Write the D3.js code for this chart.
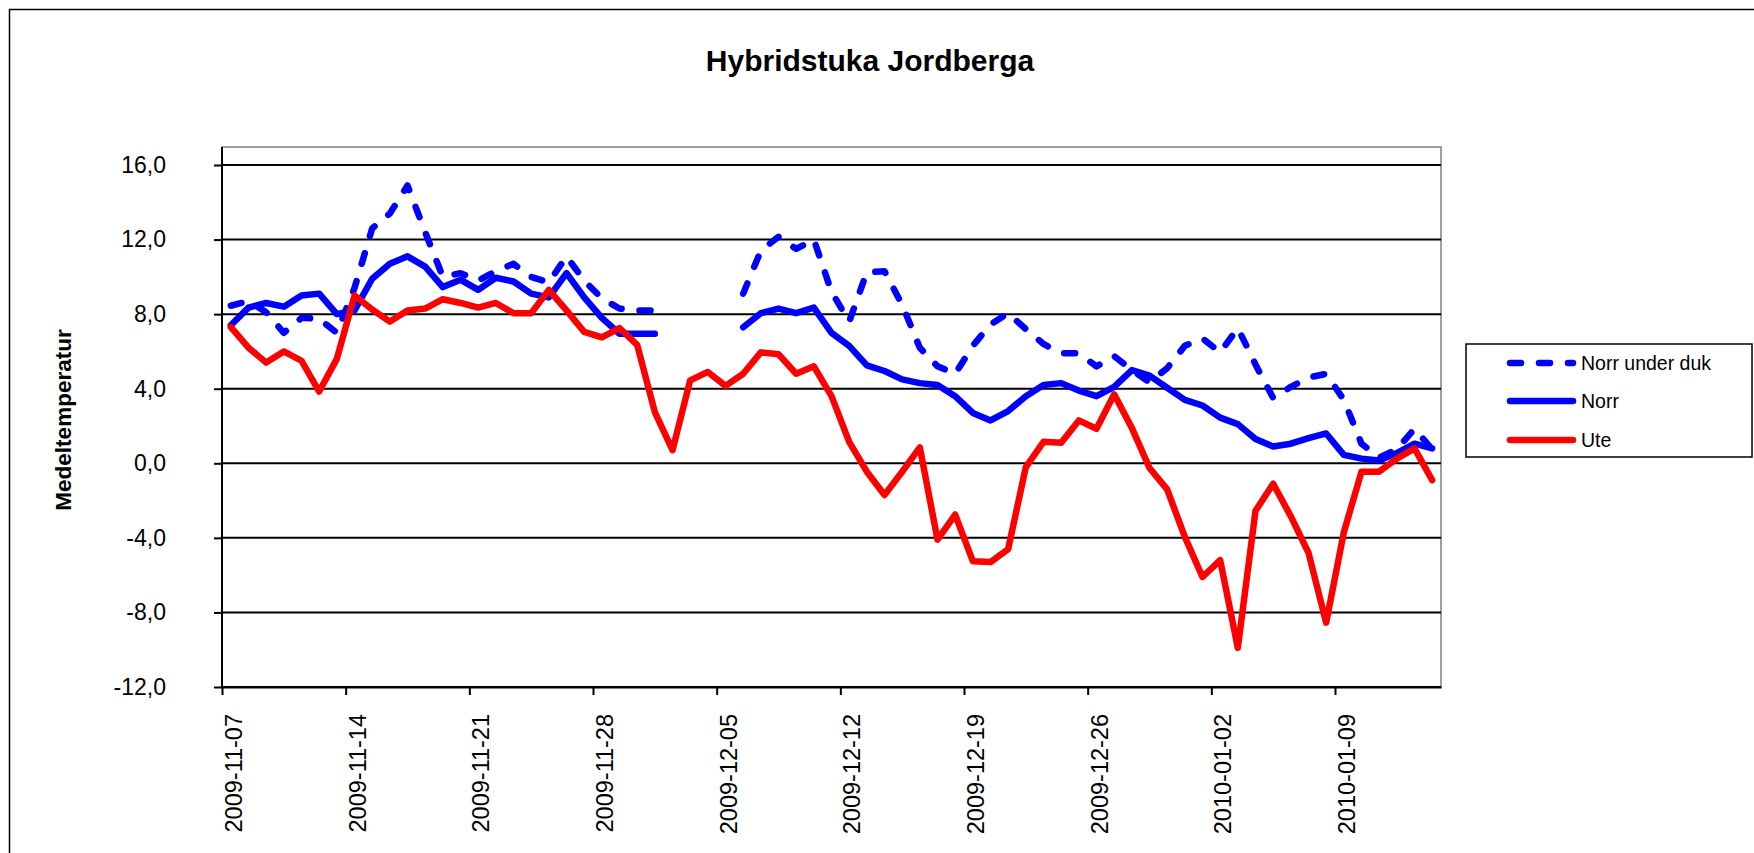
<!DOCTYPE html>
<html>
<head>
<meta charset="utf-8">
<script src="https://cdn.jsdelivr.net/npm/d3@7"></script>
<style>
  body { margin: 0; background: #fff; }
  svg { display: block; font-family: "Liberation Sans", Arial, sans-serif; }
</style>
</head>
<body>
<svg width="1754" height="853"></svg>
<script>
// Daily means, 2009-11-07 .. 2010-01-14 (one value per day, null = no reading)
const firstDay = '2009-11-07';
const endDay = '2010-01-15';

const norrUnderDuk = [
  8.45, 8.7, 8.1, 7.0, 7.8, 7.75, 7.0, 9.4, 12.6, 13.4,
  14.9, 12.4, 10.0, 10.2, 9.8, 10.3, 10.7, 10.0, 9.7, 11.1,
  9.8, 8.85, 8.3, 8.2, 8.2, null, null, null, null, 9.1,
  11.4, 12.15, 11.5, 12.0, 9.2, 7.6, 10.25, 10.3, 8.5, 6.2,
  5.2, 4.8, 6.3, 7.45, 8.05, 7.2, 6.4, 5.9, 5.9, 5.2,
  5.75, 5.0, 4.35, 5.1, 6.3, 6.7, 5.95, 7.25, 5.3, 3.5,
  4.1, 4.6, 4.8, 3.4, 1.05, 0.3, 0.75, 1.85, 0.75
];
const norr = [
  7.4, 8.35, 8.6, 8.4, 9.0, 9.1, 8.0, 8.2, 9.9, 10.7,
  11.1, 10.55, 9.45, 9.85, 9.3, 9.95, 9.75, 9.1, 8.9, 10.2,
  8.9, 7.8, 6.95, 6.95, 6.95, null, null, null, null, 7.3,
  8.05, 8.3, 8.05, 8.35, 7.0, 6.3, 5.25, 4.95, 4.5, 4.3,
  4.2, 3.6, 2.7, 2.3, 2.8, 3.6, 4.2, 4.3, 3.9, 3.6,
  4.1, 5.0, 4.7, 4.05, 3.4, 3.1, 2.45, 2.1, 1.3, 0.9,
  1.05, 1.35, 1.6, 0.45, 0.25, 0.15, 0.55, 1.05, 0.8
];
const ute = [
  7.3, 6.2, 5.4, 6.0, 5.5, 3.85, 5.6, 9.0, 8.25, 7.6,
  8.2, 8.3, 8.8, 8.6, 8.35, 8.6, 8.05, 8.05, 9.3, 8.2,
  7.05, 6.75, 7.25, 6.35, 2.75, 0.7, 4.45, 4.9, 4.15, 4.8,
  5.95, 5.85, 4.8, 5.2, 3.6, 1.15, -0.45, -1.7, -0.45, 0.85,
  -4.1, -2.75, -5.25, -5.3, -4.6, -0.2, 1.15, 1.1, 2.3, 1.85,
  3.7, 1.9, -0.25, -1.4, -3.95, -6.1, -5.2, -9.9, -2.55, -1.1,
  -2.85, -4.8, -8.55, -3.7, -0.45, -0.45, 0.25, 0.8, -0.9
];

const seriesNames = ['Norr under duk', 'Norr', 'Ute'];
const yTicks = [16, 12, 8, 4, 0, -4, -8, -12];
const xTickLabels = [
  '2009-11-07', '2009-11-14', '2009-11-21', '2009-11-28', '2009-12-05',
  '2009-12-12', '2009-12-19', '2009-12-26', '2010-01-02', '2010-01-09'
];

const parse = d3.utcParse('%Y-%m-%d');
const days = d3.utcDay.range(parse(firstDay), parse(endDay));

const svg = d3.select('svg');
const plot = {left: 222, top: 147, right: 1441, bottom: 687};

const x = d3.scaleUtc()
  .domain([parse(firstDay), parse(endDay)])
  .range([plot.left, plot.right]);

const y = d3.scaleLinear()
  .domain([-12, 16])
  .range([plot.bottom, 165]);

// point sits in the middle of its day
const xMid = d => x(d3.utcHour.offset(d, 12));

const locale = d3.formatLocale({decimal: ',', thousands: ' ', grouping: [3], currency: ['', ''], minus: '-'});
const fmt = locale.format('.1f');

// outer chart frame (runs off the right and bottom edge)
svg.append('rect')
  .attr('x', 9.5).attr('y', 9.5)
  .attr('width', 1900).attr('height', 1000)
  .attr('fill', 'none')
  .attr('stroke', '#000')
  .attr('stroke-width', 1.5);

svg.append('text')
  .attr('x', 870)
  .attr('y', 71)
  .attr('text-anchor', 'middle')
  .attr('font-size', 30)
  .attr('font-weight', 'bold')
  .text('Hybridstuka Jordberga');

svg.append('text')
  .attr('transform', 'translate(71,420) rotate(-90)')
  .attr('text-anchor', 'middle')
  .attr('font-size', 22.5)
  .attr('font-weight', 'bold')
  .text('Medeltemperatur');

// plot area border
svg.append('rect')
  .attr('x', plot.left).attr('y', plot.top)
  .attr('width', plot.right - plot.left)
  .attr('height', plot.bottom - plot.top)
  .attr('fill', '#fff')
  .attr('stroke', '#808080')
  .attr('stroke-width', 1.5);

svg.append('g')
  .selectAll('line')
  .data(yTicks)
  .enter().append('line')
    .attr('x1', plot.left).attr('x2', plot.right)
    .attr('y1', d => y(d)).attr('y2', d => y(d))
    .attr('stroke', '#000')
    .attr('stroke-width', 2);

const yAxis = svg.append('g')
  .attr('transform', `translate(${plot.left},0)`)
  .call(d3.axisLeft(y)
    .tickValues(yTicks)
    .tickFormat(fmt)
    .tickSize(8)
    .tickSizeOuter(0)
    .tickPadding(48));
yAxis.select('.domain').remove();
yAxis.selectAll('line').attr('stroke', '#000').attr('stroke-width', 2);
yAxis.selectAll('text').attr('font-size', 23).attr('font-family', null).attr('fill', '#000');

svg.append('line')
  .attr('x1', plot.left).attr('x2', plot.left)
  .attr('y1', plot.top).attr('y2', plot.bottom + 1)
  .attr('stroke', '#000')
  .attr('stroke-width', 2);

const tickDates = xTickLabels.map(parse);

const xAxis = svg.append('g')
  .attr('transform', `translate(0,${plot.bottom})`)
  .call(d3.axisBottom(x)
    .tickValues(tickDates)
    .tickFormat('')
    .tickSize(8)
    .tickSizeOuter(0));
xAxis.select('.domain').attr('stroke', '#000').attr('stroke-width', 2);
xAxis.selectAll('line').attr('stroke', '#000').attr('stroke-width', 2);

svg.append('g')
  .selectAll('text')
  .data(tickDates)
  .enter().append('text')
    .attr('transform', d => `translate(${xMid(d) + 3},714) rotate(-90)`)
    .attr('text-anchor', 'end')
    .attr('dy', '0.35em')
    .attr('font-size', 23.5)
    .text(d => d3.utcFormat('%Y-%m-%d')(d));

const series = [
  {name: seriesNames[0], values: norrUnderDuk, color: '#0000ff', dash: '11,18'},
  {name: seriesNames[1], values: norr, color: '#0000ff', dash: null},
  {name: seriesNames[2], values: ute, color: '#ff0000', dash: null}
];

const line = d3.line()
  .defined(d => d[1] != null)
  .x(d => xMid(d[0]))
  .y(d => y(d[1]));

svg.append('g')
  .selectAll('path')
  .data(series)
  .enter().append('path')
    .attr('d', s => line(days.map((d, i) => [d, s.values[i]])))
    .attr('fill', 'none')
    .attr('stroke', s => s.color)
    .attr('stroke-width', 6.5)
    .attr('stroke-linecap', 'round')
    .attr('stroke-linejoin', 'round')
    .attr('stroke-dasharray', s => s.dash);

// legend
const legend = svg.append('g');
legend.append('rect')
  .attr('x', 1466).attr('y', 344)
  .attr('width', 286).attr('height', 113)
  .attr('fill', '#fff')
  .attr('stroke', '#000')
  .attr('stroke-width', 1.5);

const item = legend.selectAll('g')
  .data(series)
  .enter().append('g')
    .attr('transform', (d, i) => `translate(0,${[363, 401, 440][i]})`);

item.append('line')
  .attr('x1', 1510).attr('x2', 1573)
  .attr('stroke', d => d.color)
  .attr('stroke-width', 6.5)
  .attr('stroke-linecap', 'round')
  .attr('stroke-dasharray', d => d.dash);

item.append('text')
  .attr('x', 1581)
  .attr('dy', '0.35em')
  .attr('font-size', 19.5)
  .text(d => d.name);
</script>
</body>
</html>
